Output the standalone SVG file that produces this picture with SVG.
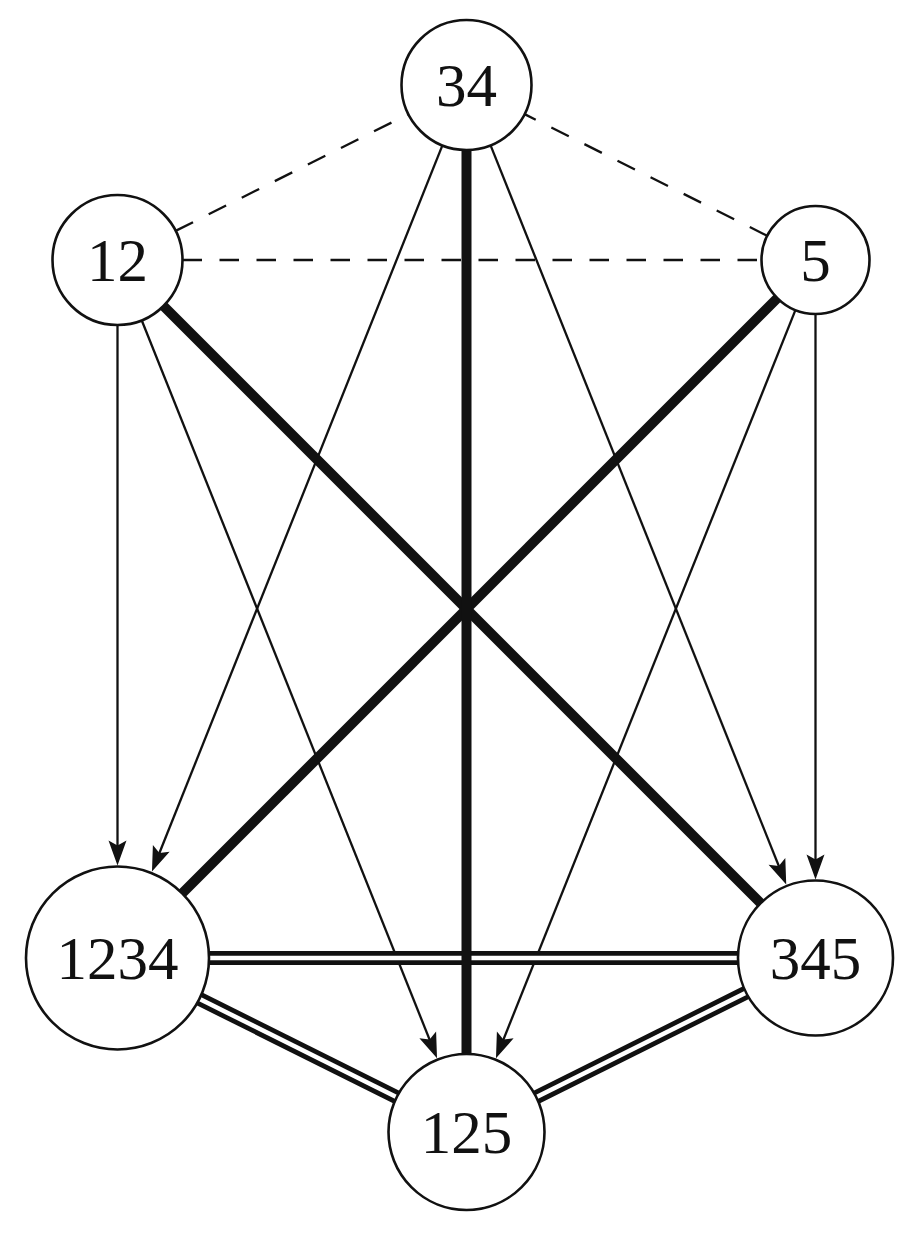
<svg xmlns="http://www.w3.org/2000/svg" width="919" height="1234" viewBox="0 0 919 1234">
<style>
.node circle{fill:#fff;stroke:#111;stroke-width:2.6}
.node text{font-family:"Liberation Serif","DejaVu Serif",serif;font-size:61px;text-anchor:middle;fill:#111}
.thin{stroke:#111;stroke-width:2.3;fill:none}
.dash{stroke:#111;stroke-width:2.3;stroke-dasharray:19.5 17.5;fill:none}
.thick{stroke:#111;stroke-width:10;fill:none}
.dblo{stroke:#111;stroke-width:14;fill:none}
.dbli{stroke:#fff;stroke-width:4.5;fill:none}
</style>
<defs>
<marker id="arr" markerUnits="userSpaceOnUse" viewBox="-30 -12 32 24" markerWidth="32" markerHeight="24" refX="-6" refY="0" orient="auto">
<path d="M0,0 L-25,-9 L-20,0 L-25,9 Z" fill="#111"/>
</marker>
</defs>
<rect width="919" height="1234" fill="#fff"/>
<g id="connectors">
<line class="thin" x1="117.5" y1="325" x2="117.5" y2="859.5" marker-end="url(#arr)"/>
<line class="thin" x1="141.7" y1="320.3" x2="434.8" y2="1052.6" marker-end="url(#arr)"/>
<line class="thin" x1="442.4" y1="145.4" x2="154.2" y2="866" marker-end="url(#arr)"/>
<line class="thin" x1="490.6" y1="145.4" x2="784" y2="879" marker-end="url(#arr)"/>
<line class="thin" x1="795.4" y1="310.1" x2="498.2" y2="1052.6" marker-end="url(#arr)"/>
<line class="thin" x1="815.5" y1="314" x2="815.5" y2="873.5" marker-end="url(#arr)"/>
<line class="dash" x1="175.6" y1="230.9" x2="408.4" y2="114.1"/>
<line class="dash" x1="767.2" y1="235.8" x2="524.6" y2="114.1"/>
<line class="dash" x1="182.5" y1="260" x2="761.5" y2="260"/>
<line class="dblo" x1="117.5" y1="958" x2="815.5" y2="958"/>
<line class="dbli" x1="117.5" y1="958" x2="815.5" y2="958"/>
<line class="dblo" x1="117.5" y1="958" x2="466.5" y2="1132"/>
<line class="dbli" x1="117.5" y1="958" x2="466.5" y2="1132"/>
<line class="dblo" x1="815.5" y1="958" x2="466.5" y2="1132"/>
<line class="dbli" x1="815.5" y1="958" x2="466.5" y2="1132"/>
<line class="thick" x1="117.5" y1="260" x2="815.5" y2="958"/>
<line class="thick" x1="815.5" y1="260" x2="117.5" y2="958"/>
<line class="thick" x1="466.5" y1="85" x2="466.5" y2="1132"/>
</g>
<g id="n34" class="node"><circle cx="466.5" cy="85" r="65"/><text x="466.5" y="105.5">34</text></g>
<g id="n12" class="node"><circle cx="117.5" cy="260" r="65"/><text x="117.5" y="280.5">12</text></g>
<g id="n5" class="node"><circle cx="815.5" cy="260" r="54"/><text x="815.5" y="280.5">5</text></g>
<g id="n1234" class="node"><circle cx="117.5" cy="958" r="91.5"/><text x="117.5" y="978.5">1234</text></g>
<g id="n345" class="node"><circle cx="815.5" cy="958" r="77.5"/><text x="815.5" y="978.5">345</text></g>
<g id="n125" class="node"><circle cx="466.5" cy="1132" r="78"/><text x="466.5" y="1152.5">125</text></g>
</svg>
